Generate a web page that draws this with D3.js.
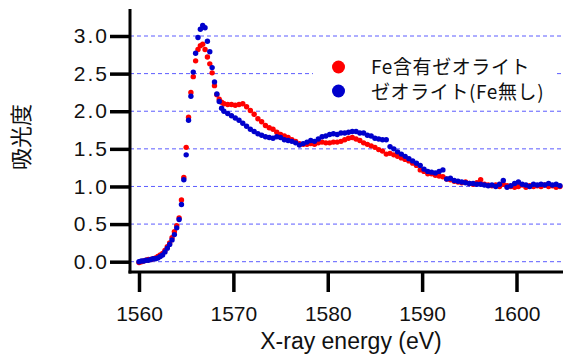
<!DOCTYPE html>
<html><head><meta charset="utf-8">
<script src="https://cdn.jsdelivr.net/npm/d3@7"></script>
<style>body{margin:0;background:#fff}svg{display:block}</style>
</head><body><svg id="c" width="563" height="354"></svg>
<script>
const energy = [
1560.00,1560.25,1560.50,1560.75,1561.00,1561.25,1561.50,1561.75,1562.00,1562.25,
1562.50,1562.75,1563.00,1563.25,1563.50,1563.75,1564.00,1564.25,1564.50,1564.75,
1565.00,1565.25,1565.50,1565.75,1566.00,1566.25,1566.50,1566.75,1567.00,1567.25,
1567.50,1567.75,1568.00,1568.25,1568.50,1568.75,1569.00,
1569.4,1569.8,1570.2,1570.6,1571.0,1571.4,1571.8,1572.2,1572.6,1573.0,
1573.4,1573.8,1574.2,1574.6,1575.0,1575.4,1575.8,1576.2,1576.6,1577.0,
1577.4,1577.8,1578.2,1578.6,1579.0,1579.4,1579.8,1580.2,1580.6,1581.0,
1581.4,1581.8,1582.2,1582.6,1583.0,1583.4,1583.8,1584.2,1584.6,1585.0,
1585.4,1585.8,1586.2,1586.6,1587.0,1587.4,1587.8,1588.2,1588.6,1589.0,
1589.4,1589.8,1590.2,1590.6,1591.0,1591.4,1591.8,1592.2,1592.6,1593.0,
1593.4,1593.8,1594.2,1594.6,1595.0,1595.4,1595.8,1596.2,1596.6,1597.0,
1597.4,1597.8,1598.2,1598.6,1599.0,1599.4,1599.8,1600.2,1600.6,1601.0,
1601.4,1601.8,1602.2,1602.6,1603.0,1603.4,1603.8,1604.2,1604.6];

const feZeolite = [
-0.01,0.00,0.01,0.02,0.03,0.03,0.04,0.05,0.07,0.09,
0.11,0.15,0.20,0.25,0.32,0.40,0.48,0.58,0.82,1.12,
1.52,1.92,2.25,2.46,2.67,2.82,2.87,2.89,2.82,2.72,
2.63,2.51,2.34,2.22,2.16,2.12,2.10,
2.09,2.09,2.08,2.09,2.10,2.06,2.01,1.96,1.90,1.86,
1.81,1.78,1.76,1.72,1.69,1.67,1.65,1.62,1.60,1.57,
1.56,1.56,1.57,1.56,1.58,1.59,1.58,1.58,1.59,1.59,
1.60,1.62,1.64,1.65,1.63,1.61,1.58,1.56,1.54,1.52,
1.49,1.47,1.43,1.44,1.42,1.40,1.38,1.36,1.34,1.31,
1.28,1.22,1.20,1.17,1.17,1.15,1.14,1.13,1.10,1.09,
1.07,1.06,1.05,1.06,1.04,1.03,1.05,1.09,1.03,1.02,
1.01,1.02,1.00,1.03,1.01,1.00,0.99,1.00,1.02,0.99,
1.01,1.00,1.01,1.00,1.02,1.00,1.01,0.99,1.00];

const zeolite = [
0.00,0.01,0.01,0.02,0.02,0.03,0.04,0.04,0.05,0.07,
0.09,0.13,0.18,0.23,0.29,0.36,0.45,0.56,0.76,1.09,
1.42,1.88,2.20,2.52,2.77,2.98,3.09,3.14,3.11,2.93,
2.79,2.58,2.39,2.23,2.13,2.04,2.00,
1.97,1.94,1.91,1.88,1.84,1.80,1.76,1.73,1.70,1.68,
1.66,1.65,1.64,1.66,1.65,1.62,1.61,1.60,1.58,1.55,
1.57,1.59,1.61,1.60,1.63,1.66,1.67,1.69,1.70,1.69,
1.71,1.71,1.72,1.73,1.73,1.71,1.71,1.68,1.67,1.64,
1.63,1.62,1.62,1.53,1.50,1.46,1.43,1.40,1.37,1.34,
1.31,1.28,1.23,1.20,1.19,1.18,1.20,1.22,1.10,1.11,
1.08,1.07,1.06,1.05,1.04,1.04,1.03,1.03,1.02,1.01,
1.02,1.00,1.03,1.08,0.99,1.01,1.04,1.06,1.03,1.02,
1.00,1.03,1.02,1.03,1.02,1.04,1.02,1.03,1.01];

const yTicks = [0, 0.5, 1.0, 1.5, 2.0, 2.5, 3.0];
const xTicks = [1560, 1570, 1580, 1590, 1600];
const seriesNames = ["Fe含有ゼオライト", "ゼオライト(Fe無し)"];
const seriesColors = ["#ff0000", "#0000cc"];
const xTitle = "X-ray energy (eV)";
const yTitle = "吸光度";

const W = 563, H = 354;
const svg = d3.select("#c");
const x = d3.scaleLinear().domain([1560, 1600]).range([139, 516.5]);
const y = d3.scaleLinear().domain([0, 3]).range([261.7, 36]);
const axX = 130, axY = 272;
const latin = "'Liberation Sans', Arial, sans-serif";
const cjk = "'Noto Sans CJK JP', 'Noto Sans', sans-serif";

// grid lines
svg.append("g").selectAll("line").data(yTicks).join("line")
  .attr("x1", axX).attr("x2", W)
  .attr("y1", d => y(d)).attr("y2", d => y(d))
  .attr("stroke", "#5c5cff").attr("stroke-width", 1)
  .attr("stroke-dasharray", "4,3");

// legend background
svg.append("rect").attr("x", 313).attr("y", 50).attr("width", 244).attr("height", 54)
  .attr("fill", "#fff");

// data points
const series = [feZeolite, zeolite];
series.forEach((vals, i) => {
  svg.append("g").selectAll("circle").data(vals).join("circle")
    .attr("cx", (d, j) => x(energy[j]))
    .attr("cy", d => y(d))
    .attr("r", 2.7)
    .attr("fill", seriesColors[i]);
});

// axes
const yAxis = svg.append("g").attr("transform", `translate(${axX},0)`)
  .call(d3.axisLeft(y).tickValues(yTicks).tickFormat(d3.format(".1f"))
    .tickSize(20).tickPadding(3));
yAxis.select(".domain").remove();
yAxis.selectAll(".tick line").attr("stroke", "#000").attr("stroke-width", 3.5);
yAxis.selectAll(".tick text").attr("font-family", latin).attr("font-size", 21)
  .attr("fill", "#111").attr("letter-spacing", 2).attr("dx", 2);

const xAxis = svg.append("g").attr("transform", `translate(0,${axY})`)
  .call(d3.axisBottom(x).tickValues(xTicks).tickFormat(d3.format("d"))
    .tickSize(20).tickPadding(14));
xAxis.select(".domain").remove();
xAxis.selectAll(".tick line").attr("stroke", "#000").attr("stroke-width", 3.5);
xAxis.selectAll(".tick text").attr("font-family", latin).attr("font-size", 21)
  .attr("fill", "#111");

// axis frame lines
svg.append("line").attr("x1", axX).attr("x2", axX).attr("y1", 9).attr("y2", axY + 1.5)
  .attr("stroke", "#000").attr("stroke-width", 3);
svg.append("line").attr("x1", axX - 1.5).attr("x2", W).attr("y1", axY).attr("y2", axY)
  .attr("stroke", "#000").attr("stroke-width", 3);

// titles
svg.append("text").attr("x", 351).attr("y", 349).attr("text-anchor", "middle")
  .attr("font-family", latin).attr("font-size", 23).attr("fill", "#111").text(xTitle);
svg.append("text").attr("transform", "translate(29,137) rotate(-90)")
  .attr("text-anchor", "middle").attr("font-family", cjk).attr("font-size", 22)
  .attr("fill", "#111").text(yTitle);

// legend
const lg = svg.append("g");
seriesNames.forEach((n, i) => {
  lg.append("circle").attr("cx", 338.5).attr("cy", 67 + i * 24).attr("r", 6.5)
    .attr("fill", seriesColors[i]);
  lg.append("text").attr("x", 371).attr("y", 74 + i * 24.5)
    .attr("font-family", cjk).attr("font-size", 19).attr("letter-spacing", 0.6)
    .attr("fill", "#111").text(n);
});
</script>
</body></html>
